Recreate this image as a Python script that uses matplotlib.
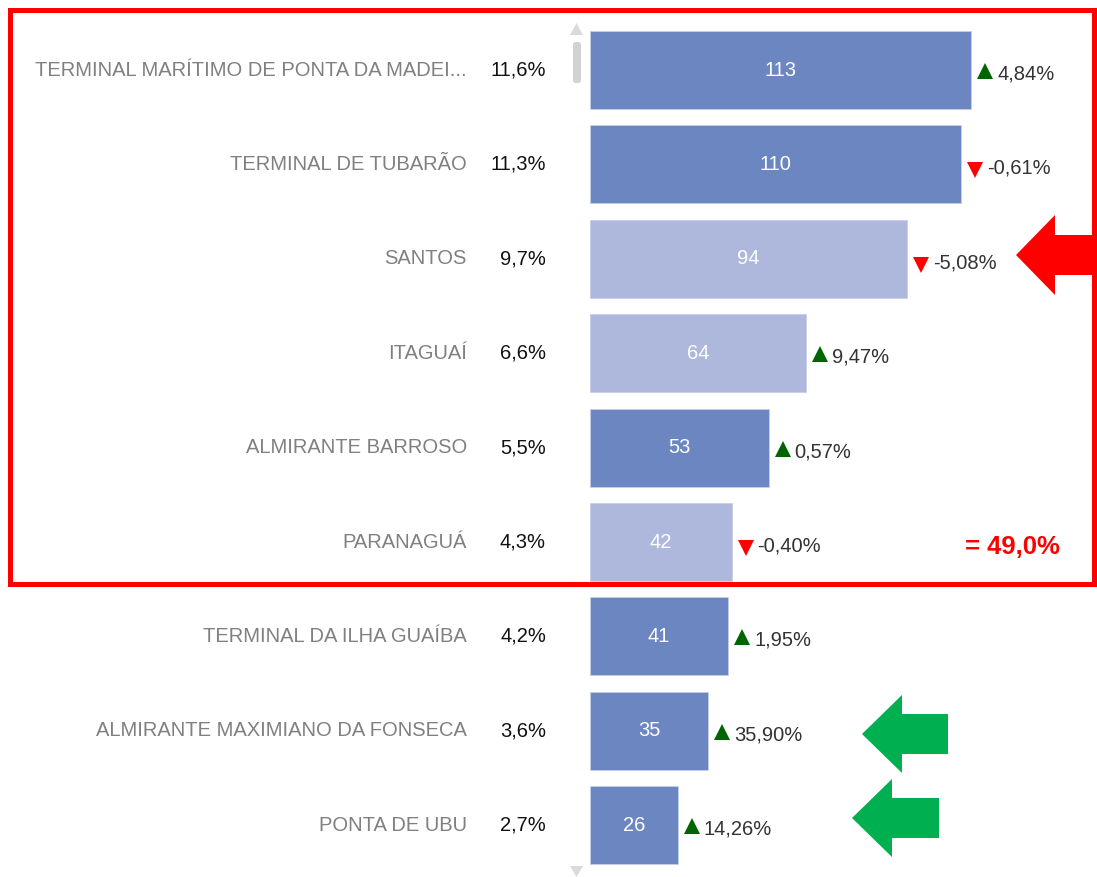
import matplotlib

matplotlib.use("Agg")
import matplotlib.pyplot as plt
from matplotlib.patches import FancyBboxPatch, Polygon, Rectangle

plt.rcParams["font.family"] = ["Liberation Sans", "DejaVu Sans"]

portos = [
    "TERMINAL MARÍTIMO DE PONTA DA MADEI...",
    "TERMINAL DE TUBARÃO",
    "SANTOS",
    "ITAGUAÍ",
    "ALMIRANTE BARROSO",
    "PARANAGUÁ",
    "TERMINAL DA ILHA GUAÍBA",
    "ALMIRANTE MAXIMIANO DA FONSECA",
    "PONTA DE UBU",
]
participacao = [11.6, 11.3, 9.7, 6.6, 5.5, 4.3, 4.2, 3.6, 2.7]
valores = [113, 110, 94, 64, 53, 42, 41, 35, 26]
variacao = [4.84, -0.61, -5.08, 9.47, 0.57, -0.40, 1.95, 35.90, 14.26]
tom_claro = [False, False, True, True, False, True, False, False, False]
n_destaque = 6  # portos dentro da caixa vermelha

W, H = 1097, 877
X0, Y0 = 590, 70          # origem das barras / centro da 1a linha (px)
PX, ROW = 3.372, 94.4     # px por unidade, px por linha

COR_ESCURA = "#6b86c0"
COR_CLARA = "#adb8dc"
FS = 14.5


def px(x):
    return (x - X0) / PX


def py(y):
    return (y - Y0) / ROW


def br(v):
    return v.replace(".", ",")


fig = plt.figure(figsize=(W / 100, H / 100), dpi=100)
ax = fig.add_axes([0, 0, 1, 1])
ax.set_xlim(px(0), px(W))
ax.set_ylim(py(H), py(0))
ax.axis("off")

ys = list(range(len(portos)))
cores = [COR_CLARA if c else COR_ESCURA for c in tom_claro]
ax.barh(ys, valores, height=78 / ROW, color=cores, edgecolor="#c5cfe8", linewidth=0.6)

for i, (nome, p, v, d) in enumerate(zip(portos, participacao, valores, variacao)):
    ax.text(px(467), i, nome, ha="right", va="center", fontsize=FS, color="#808080")
    ax.text(px(546), i, br(f"{p:.1f}%"), ha="right", va="center", fontsize=FS, color="#111111")
    ax.text(v / 2, i, str(v), ha="center", va="center", fontsize=FS, color="white")
    if d >= 0:
        ax.plot(v + 14 / PX, i + 1 / ROW, marker="^", ms=11, color="#006400", mew=0)
    else:
        ax.plot(v + 14 / PX, i + 6 / ROW, marker="v", ms=11, color="#ff0000", mew=0)
    ax.text(v + 26 / PX, i + 4 / ROW, br(f"{d:.2f}%"), ha="left", va="center",
            fontsize=FS, color="#333333")

total = sum(participacao[:n_destaque])
ax.text(px(965), n_destaque - 1 + 5 / ROW, "= " + br(f"{total:.1f}%"), ha="left", va="center",
        fontsize=18.5, fontweight="bold", color="#ff0000")

# caixa vermelha
ax.add_patch(Rectangle((px(10), py(10)), 1084 / PX, 574 / ROW, fill=False,
                       edgecolor="#ff0000", linewidth=3.6, clip_on=False))


def seta(tip_x, tip_y, base_x, fim_x, meia_cab, meia_haste, cor):
    pts = [
        (tip_x, tip_y),
        (base_x, tip_y - meia_cab),
        (base_x, tip_y - meia_haste),
        (fim_x, tip_y - meia_haste),
        (fim_x, tip_y + meia_haste),
        (base_x, tip_y + meia_haste),
        (base_x, tip_y + meia_cab),
    ]
    ax.add_patch(Polygon([(px(a), py(b)) for a, b in pts], closed=True,
                         facecolor=cor, edgecolor="none", clip_on=False, zorder=5))


seta(1016, 255, 1055, 1105, 40, 20, "#ff0000")
seta(862, 734, 902, 948, 39, 20, "#00b050")
seta(852, 818, 892, 939, 39, 20, "#00b050")

# barra de rolagem
ax.add_patch(Polygon([(px(576.5), py(23)), (px(570), py(35)), (px(583), py(35))],
                     facecolor="#dadada", edgecolor="none"))
ax.add_patch(Polygon([(px(570), py(866)), (px(583), py(866)), (px(576.5), py(877))],
                     facecolor="#dadada", edgecolor="none"))
ax.add_patch(FancyBboxPatch((px(573), py(42)), 8 / PX, 41 / ROW,
                            boxstyle="round,pad=0,rounding_size=0.8",
                            facecolor="#d2d2d2", edgecolor="none", mutation_aspect=PX / ROW))

fig.savefig("out.png", dpi=100)
